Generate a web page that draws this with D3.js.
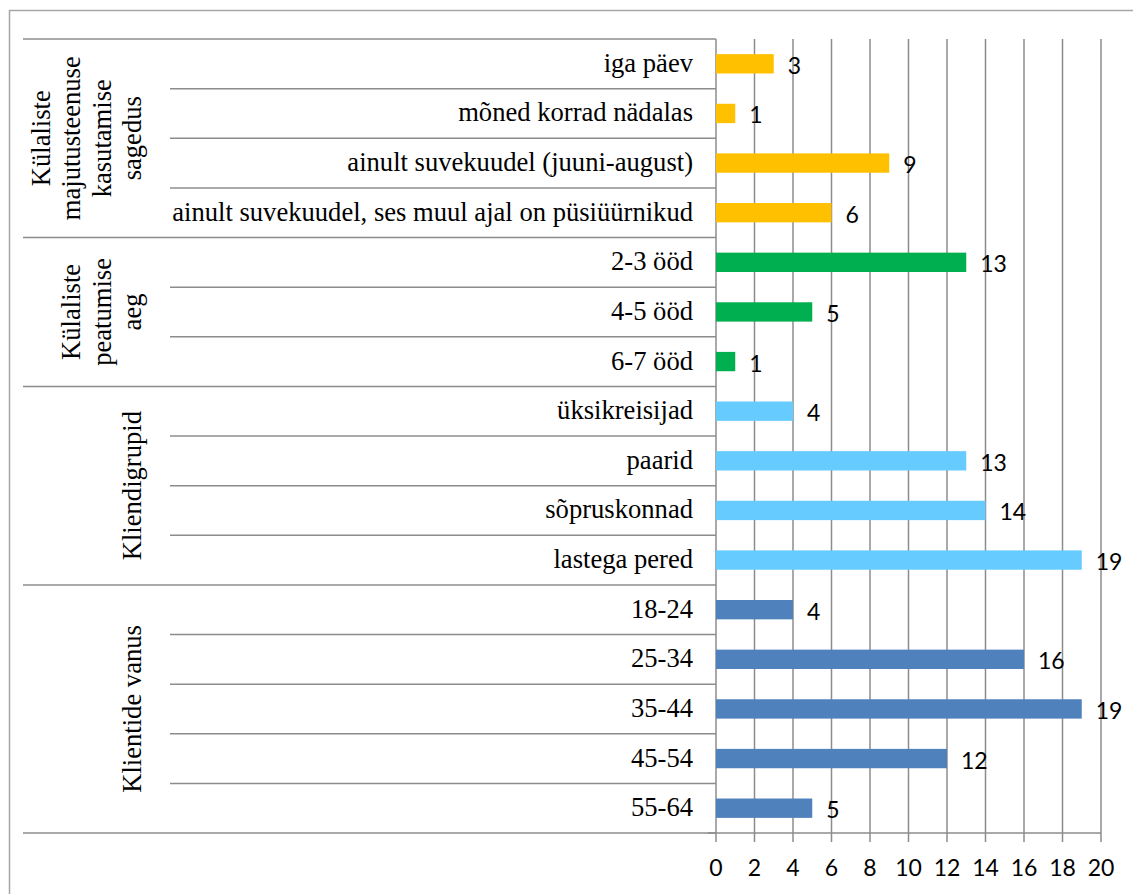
<!DOCTYPE html>
<html>
<head>
<meta charset="utf-8">
<script src="https://cdn.jsdelivr.net/npm/d3@7"></script>
<style>
  html, body { margin: 0; padding: 0; background: #fff; }
  svg { display: block; }
</style>
</head>
<body>
<svg id="chart" width="1133" height="894"></svg>
<script>
// ---- data ----
const groupNames = ["Külaliste majutusteenuse kasutamise sagedus", "Külaliste peatumise aeg", "Kliendigrupid", "Klientide vanus"];
const groupLines = [["Külaliste", "majutusteenuse", "kasutamise", "sagedus"], ["Külaliste", "peatumise", "aeg"], ["Kliendigrupid"], ["Klientide vanus"]];
const categories = [
  "iga päev", "mõned korrad nädalas", "ainult suvekuudel (juuni-august)", "ainult suvekuudel, ses muul ajal on püsiüürnikud",
  "2-3 ööd", "4-5 ööd", "6-7 ööd",
  "üksikreisijad", "paarid", "sõpruskonnad", "lastega pered",
  "18-24", "25-34", "35-44", "45-54", "55-64"
];
const values = [3, 1, 9, 6, 13, 5, 1, 4, 13, 14, 19, 4, 16, 19, 12, 5];
const categoryGroup = [0, 0, 0, 0, 1, 1, 1, 2, 2, 2, 2, 3, 3, 3, 3, 3];
const groupColors = ["#FFC000", "#00B050", "#66CCFF", "#4F81BD"];
const xTicks = [0, 2, 4, 6, 8, 10, 12, 14, 16, 18, 20];

// ---- layout ----
const svg = d3.select("#chart");
const plotLeft = 716, plotRight = 1101, plotTop = 39, plotBottom = 833;
const gridColor = "#8c8c8c";
const serif = "'Liberation Serif', 'Times New Roman', serif";
const sans = "Lato, 'Liberation Sans', sans-serif";
const serifSize = 26.6, sansSize = 23;

const x = d3.scaleLinear().domain([0, 20]).range([plotLeft, plotRight]);
const row = d3.scaleBand().domain(categories).range([plotTop, plotBottom]).padding(0);
const step = row.step();
const barFrac = 0.39;

// outer frame
svg.append("rect")
  .attr("x", 9.5).attr("y", 10.5).attr("width", 1150).attr("height", 900)
  .attr("fill", "none").attr("stroke", "#a6a6a6").attr("stroke-width", 1.5);

// vertical gridlines (with ticks below axis)
svg.append("g").selectAll("line").data(xTicks.slice(1)).join("line")
  .attr("x1", d => x(d)).attr("x2", d => x(d))
  .attr("y1", plotTop).attr("y2", plotBottom + 9)
  .attr("stroke", gridColor).attr("stroke-width", 1.5);

// x axis line
svg.append("line")
  .attr("x1", plotLeft - 8).attr("x2", plotRight)
  .attr("y1", plotBottom).attr("y2", plotBottom)
  .attr("stroke", gridColor).attr("stroke-width", 1.5);

// vertical category axis
svg.append("line")
  .attr("x1", plotLeft).attr("x2", plotLeft)
  .attr("y1", plotTop).attr("y2", plotBottom + 9)
  .attr("stroke", gridColor).attr("stroke-width", 1.5);

// separators between categories
const boundaries = [];
categories.forEach((c, i) => {
  if (i === 0) return;
  const isGroupBoundary = categoryGroup[i] !== categoryGroup[i - 1];
  boundaries.push({ y: row(c), outer: isGroupBoundary });
});
boundaries.push({ y: plotTop, outer: true });
boundaries.push({ y: plotBottom, outer: true });
svg.append("g").selectAll("line").data(boundaries).join("line")
  .attr("x1", d => d.outer ? 23 : 170).attr("x2", plotLeft)
  .attr("y1", d => d.y).attr("y2", d => d.y)
  .attr("stroke", gridColor).attr("stroke-width", 1.5);

// bars
svg.append("g").selectAll("rect").data(categories).join("rect")
  .attr("x", x(0))
  .attr("y", c => row(c) + step * (1 - barFrac) / 2)
  .attr("width", (c, i) => x(values[i]) - x(0))
  .attr("height", step * barFrac)
  .attr("fill", (c, i) => groupColors[categoryGroup[i]]);

// value labels
svg.append("g").selectAll("text").data(categories).join("text")
  .attr("x", (c, i) => x(values[i]) + 14)
  .attr("y", c => row(c) + step / 2 + 10)
  .attr("font-family", sans).attr("font-size", sansSize).attr("fill", "#000")
  .text((c, i) => values[i]);

// category labels
svg.append("g").selectAll("text").data(categories).join("text")
  .attr("x", 693)
  .attr("y", c => row(c) + step / 2 + 8)
  .attr("text-anchor", "end")
  .attr("font-family", serif).attr("font-size", serifSize).attr("fill", "#000")
  .text(c => c);

// group labels (rotated)
groupNames.forEach((g, gi) => {
  const cats = categories.filter((c, i) => categoryGroup[i] === gi);
  const yTop = row(cats[0]);
  const yBot = row(cats[cats.length - 1]) + step;
  const yc = (yTop + yBot) / 2;
  const lines = groupLines[gi];
  const n = lines.length;
  lines.forEach((ln, li) => {
    const bx = 141 - (n - 1 - li) * 30.5;
    svg.append("text")
      .attr("transform", `translate(${bx},${yc}) rotate(-90)`)
      .attr("text-anchor", "middle")
      .attr("font-family", serif).attr("font-size", serifSize).attr("fill", "#000")
      .text(ln);
  });
});

// x tick labels
svg.append("g").selectAll("text").data(xTicks).join("text")
  .attr("x", d => x(d))
  .attr("y", 876)
  .attr("text-anchor", "middle")
  .attr("font-family", sans).attr("font-size", sansSize).attr("fill", "#000")
  .text(d => d);
</script>
</body>
</html>
